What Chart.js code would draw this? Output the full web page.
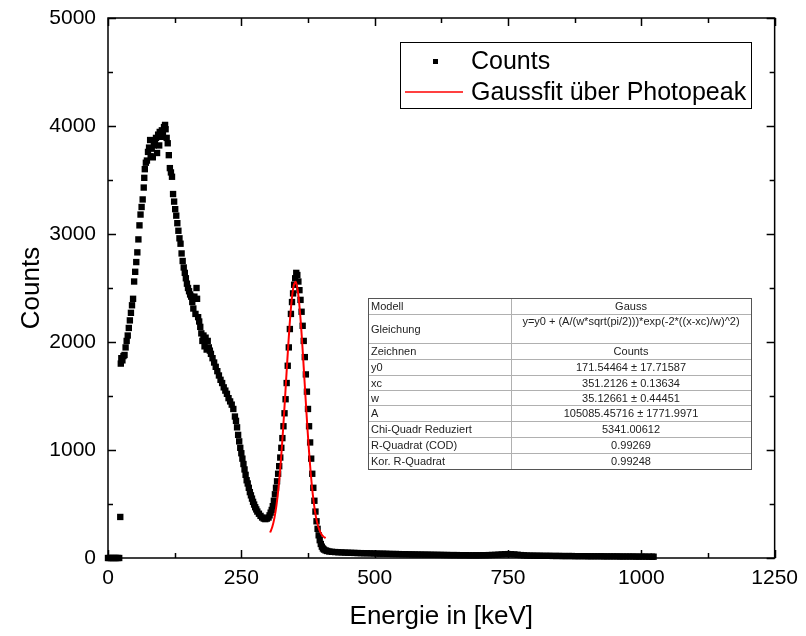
<!DOCTYPE html>
<html>
<head>
<meta charset="utf-8">
<script src="https://cdn.jsdelivr.net/npm/chart.js@4"></script>
<style>
  html, body { margin: 0; padding: 0; background: #fff; }
</style>
</head>
<body>
<canvas id="myChart" width="806" height="636"></canvas>
<script>
// measured spectrum (energy in keV, counts)
const energy = [
  0, 3, 6, 9, 12, 15, 18, 21, 23, 24,
  25, 27, 29, 31, 33, 35, 37, 39, 41, 43,
  45, 47, 49, 51, 53, 55, 57, 59, 61, 63,
  65, 67, 68, 69, 71, 73, 75, 77, 79, 80,
  82, 84, 86, 88, 90, 92, 94, 96, 97, 99,
  101, 103, 105, 107, 108, 110, 112, 114, 116, 118,
  120, 122, 124, 126, 128, 130, 132, 134, 136, 138,
  140, 142, 144, 146, 148, 150, 152, 154, 156, 158,
  160, 162, 164, 166, 167, 169, 171, 173, 175, 177,
  179, 181, 183, 185, 187, 189, 191, 193, 196, 199,
  202, 205, 208, 211, 214, 217, 220, 223, 226, 229,
  232, 235, 238, 240, 242, 244, 246, 248, 250, 252,
  254, 256, 258, 260, 262, 264, 266, 268, 270, 272,
  274, 276, 278, 280, 283, 286, 289, 292, 295, 298,
  301, 303, 305, 307, 309, 311, 313, 315, 317, 319,
  321, 323, 325, 327, 329, 331, 333, 335, 337, 339,
  341, 343, 345, 347, 349, 351, 353, 355, 357, 359,
  361, 363, 365, 367, 369, 371, 373, 375, 377, 379,
  381, 383, 385, 387, 389, 391, 393, 395, 397, 399,
  401, 403, 405, 408, 411, 415, 420, 426, 432, 438,
  444, 450, 456, 462, 468, 474, 480, 486, 492, 498,
  504, 510, 516, 522, 528, 534, 540, 546, 552, 558,
  564, 570, 576, 582, 588, 594, 600, 606, 612, 618,
  624, 630, 636, 642, 648, 654, 660, 666, 672, 678,
  684, 690, 696, 702, 708, 714, 720, 726, 732, 738,
  744, 750, 756, 762, 768, 774, 780, 786, 792, 798,
  804, 810, 816, 822, 828, 834, 840, 846, 852, 858,
  864, 870, 876, 882, 888, 894, 900, 906, 912, 918,
  924, 930, 936, 942, 948, 954, 960, 966, 972, 978,
  984, 990, 996, 1002, 1008, 1014, 1020, 1023
];
const counts = [
  0, 0, 0, 0, 0, 0, 0, 0, 380, 1800,
  1850, 1830, 1870, 1880, 1950, 2010, 2060, 2130, 2200, 2270,
  2340, 2400, 2560, 2650, 2740, 2830, 2950, 3080, 3180, 3250,
  3320, 3430, 3520, 3600, 3660, 3680, 3760, 3800, 3870, 3720,
  3790, 3710, 3820, 3840, 3890, 3750, 3920, 3820, 3945, 3900,
  3960, 3930, 3990, 4010, 3970, 3890, 3840, 3730, 3610, 3570,
  3530, 3370, 3300, 3230, 3170, 3100, 3030, 2960, 2910, 2820,
  2750, 2690, 2640, 2590, 2540, 2500, 2470, 2440, 2420, 2370,
  2310, 2420, 2260, 2500, 2400, 2230, 2190, 2140, 2080, 2010,
  2060, 1960, 2040, 1930, 2010, 1950, 1920, 1890, 1850, 1810,
  1770, 1730, 1690, 1650, 1620, 1580, 1550, 1520, 1480, 1450,
  1420, 1380, 1310, 1270, 1210, 1140, 1080, 1020, 970, 920,
  870, 820, 770, 720, 690, 650, 610, 580, 550, 520,
  495, 470, 450, 430, 410, 390, 375, 365, 360, 365,
  375, 395, 420, 445, 480, 530, 590, 650, 710, 780,
  850, 930, 1020, 1110, 1220, 1340, 1470, 1620, 1780, 1950,
  2120, 2260, 2370, 2450, 2530, 2590, 2640, 2620, 2560, 2480,
  2390, 2280, 2150, 2010, 1860, 1700, 1540, 1380, 1220, 1070,
  920, 780, 650, 530, 430, 340, 270, 210, 165, 130,
  105, 88, 78, 70, 65, 60, 57, 55, 53, 52,
  50, 49, 48, 47, 46, 45, 44, 44, 43, 42,
  41, 40, 40, 39, 38, 37, 37, 36, 35, 35,
  34, 33, 33, 32, 32, 31, 31, 30, 30, 29,
  29, 28, 28, 27, 27, 27, 26, 26, 26, 25,
  25, 25, 25, 26, 26, 27, 28, 29, 31, 33,
  35, 36, 35, 33, 30, 27, 25, 23, 22, 22,
  21, 21, 20, 20, 20, 19, 19, 19, 18, 18,
  18, 18, 17, 17, 17, 17, 16, 16, 16, 16,
  16, 15, 15, 15, 15, 15, 14, 14, 14, 14,
  14, 13, 13, 13, 13, 12, 12, 12
];

// gauss fit over the photopeak
const fitEnergy = [
  304, 308, 312, 316, 320, 324, 328, 332, 336, 340,
  344, 348, 352, 356, 360, 364, 368, 372, 376, 380,
  384, 388, 392, 396, 400, 404, 408
];
const fitCounts = [
  236, 287, 369, 492, 664, 891, 1169, 1485, 1813, 2119,
  2366, 2519, 2556, 2471, 2277, 2002, 1682, 1356, 1052, 794,
  589, 437, 332, 264, 222, 198, 184
];

// fit results table
const tableNames = [
  "Modell", "Gleichung", "Zeichnen", "y0", "xc", "w", "A",
  "Chi-Quadr Reduziert", "R-Quadrat (COD)", "Kor. R-Quadrat"
];
const tableValues = [
  "Gauss",
  "y=y0 + (A/(w*sqrt(pi/2)))*exp(-2*((x-xc)/w)^2)",
  "Counts",
  "171.54464 ± 17.71587",
  "351.2126 ± 0.13634",
  "35.12661 ± 0.44451",
  "105085.45716 ± 1771.9971",
  "5341.00612",
  "0.99269",
  "0.99248"
];

const FONT = "Arial, 'Liberation Sans', Helvetica, sans-serif";

// inward ticks on all four sides plus the frame
const frameTicks = {
  id: "frameTicks",
  afterDraw(chart) {
    const { ctx, chartArea: a, scales } = chart;
    ctx.save();
    ctx.strokeStyle = "#000";
    ctx.lineWidth = 1.5;
    ctx.beginPath();
    for (let v = 0; v <= 1250; v += 125) {
      const px = Math.round(scales.x.getPixelForValue(v)) + 0.5;
      const len = v % 250 === 0 ? 8 : 5;
      ctx.moveTo(px, a.bottom); ctx.lineTo(px, a.bottom - len);
      ctx.moveTo(px, a.top); ctx.lineTo(px, a.top + len);
    }
    for (let v = 0; v <= 5000; v += 500) {
      const py = Math.round(scales.y.getPixelForValue(v)) + 0.5;
      const len = v % 1000 === 0 ? 8 : 5;
      ctx.moveTo(a.left, py); ctx.lineTo(a.left + len, py);
      ctx.moveTo(a.right, py); ctx.lineTo(a.right - len, py);
    }
    ctx.stroke();
    ctx.strokeRect(a.left, a.top, a.right - a.left, a.bottom - a.top);
    ctx.restore();
  }
};

// legend box in the upper right
const legendBox = {
  id: "legendBox",
  afterDraw(chart) {
    const ctx = chart.ctx;
    const ds = chart.data.datasets;
    ctx.save();
    ctx.fillStyle = "#fff";
    ctx.fillRect(400, 42, 351, 66);
    ctx.strokeStyle = "#000";
    ctx.lineWidth = 1;
    ctx.strokeRect(400.5, 42.5, 351, 66);
    ctx.fillStyle = "#000";
    ctx.fillRect(433, 59, 5, 5);
    ctx.strokeStyle = ds[1].borderColor;
    ctx.lineWidth = 1.5;
    ctx.beginPath();
    ctx.moveTo(405, 92); ctx.lineTo(463, 92);
    ctx.stroke();
    ctx.fillStyle = "#000";
    ctx.font = "25px " + FONT;
    ctx.textBaseline = "middle";
    ctx.fillText(ds[0].label, 471, 62);
    ctx.fillText(ds[1].label, 471, 93);
    ctx.restore();
  }
};

// table with the fit parameters
const fitTable = {
  id: "fitTable",
  afterDraw(chart) {
    const ctx = chart.ctx;
    const left = 368, mid = 511, right = 751;
    const rows = [298, 314, 343, 359, 375, 390, 405, 421, 437, 453, 469];
    ctx.save();
    ctx.fillStyle = "#fff";
    ctx.fillRect(left, rows[0], right - left, rows[rows.length - 1] - rows[0]);
    ctx.strokeStyle = "#b0b0b0";
    ctx.lineWidth = 1;
    ctx.beginPath();
    for (let i = 1; i < rows.length - 1; i++) {
      ctx.moveTo(left, rows[i] + 0.5); ctx.lineTo(right, rows[i] + 0.5);
    }
    ctx.moveTo(mid + 0.5, rows[0]); ctx.lineTo(mid + 0.5, rows[rows.length - 1]);
    ctx.stroke();
    ctx.strokeStyle = "#555";
    ctx.strokeRect(left + 0.5, rows[0] + 0.5, right - left, rows[rows.length - 1] - rows[0]);
    ctx.fillStyle = "#222";
    ctx.font = "11px " + FONT;
    ctx.textBaseline = "middle";
    for (let i = 0; i < tableNames.length; i++) {
      const cy = (rows[i] + rows[i + 1]) / 2 + 1;
      ctx.textAlign = "left";
      ctx.fillText(tableNames[i], left + 3, cy);
      ctx.textAlign = "center";
      const vy = i === 1 ? rows[i] + 8 : cy;
      ctx.fillText(tableValues[i], (mid + right) / 2, vy);
    }
    ctx.restore();
  }
};

const ctx = document.getElementById("myChart");

new Chart(ctx, {
  type: "scatter",
  data: {
    datasets: [
      {
        label: "Counts",
        data: energy.map((e, i) => ({ x: e, y: counts[i] })),
        pointStyle: "rect",
        pointRadius: 4.5,
        pointHoverRadius: 4.5,
        backgroundColor: "#000",
        borderColor: "#000",
        borderWidth: 0,
        showLine: false,
        clip: false,
        order: 2,
      },
      {
        label: "Gaussfit über Photopeak",
        data: fitEnergy.map((e, i) => ({ x: e, y: fitCounts[i] })),
        showLine: true,
        borderColor: "#ff0000",
        borderWidth: 2,
        pointRadius: 0,
        tension: 0.3,
        order: 1,
      },
    ],
  },
  options: {
    responsive: false,
    animation: false,
    layout: { padding: { left: 12, top: 18, right: 31, bottom: 0 } },
    plugins: {
      legend: { display: false },
      tooltip: { enabled: false },
    },
    scales: {
      x: {
        type: "linear",
        min: 0,
        max: 1250,
        afterFit(scale) { scale.height = 78; },
        grid: { display: false, drawTicks: false },
        border: { display: false },
        ticks: {
          stepSize: 250,
          color: "#000",
          maxRotation: 0,
          padding: 8,
          font: { family: FONT, size: 21 },
          callback: (v) => String(v),
        },
        title: {
          display: true,
          text: "Energie in [keV]",
          color: "#000",
          font: { family: FONT, size: 26 },
          padding: { top: 10, bottom: 4 },
        },
      },
      y: {
        min: 0,
        max: 5000,
        afterFit(scale) {
          scale.width = 96;
          scale.paddingTop = 0;
          scale.paddingBottom = 0;
        },
        grid: { display: false, drawTicks: false },
        border: { display: false },
        ticks: {
          stepSize: 1000,
          color: "#000",
          padding: 12,
          font: { family: FONT, size: 21 },
          callback: (v) => String(v),
        },
        title: {
          display: true,
          text: "Counts",
          color: "#000",
          font: { family: FONT, size: 26 },
          padding: { top: 4, bottom: 4 },
        },
      },
    },
  },
  plugins: [frameTicks, fitTable, legendBox],
});
</script>
</body>
</html>
